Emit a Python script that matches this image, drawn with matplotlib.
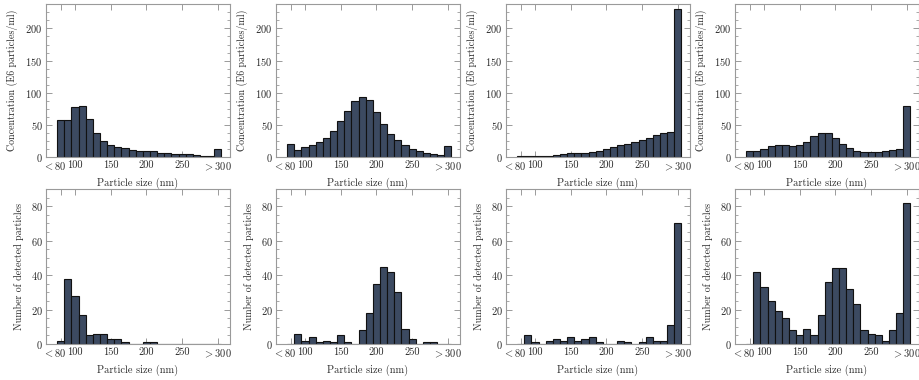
import matplotlib
matplotlib.use("Agg")
import matplotlib.pyplot as plt
from matplotlib.ticker import MultipleLocator, FixedLocator
from matplotlib.transforms import ScaledTranslation

plt.rcParams['font.family'] = ['cmr10', 'DejaVu Serif']
plt.rcParams['mathtext.fontset'] = 'cm'
plt.rcParams['axes.unicode_minus'] = False
plt.rcParams['axes.formatter.use_mathtext'] = True

# bin centres (nm); first = "< 80", last = "> 300"
sizes = [80, 90, 100, 110, 120, 130, 140, 150, 160, 170, 180, 190,
         200, 210, 220, 230, 240, 250, 260, 270, 280, 290, 300]

tick_pos = [80, 100, 150, 200, 250, 300]
tick_labels = ['$<$80', '100', '150', '200', '250', '$>$300']

# top row: concentration (E6 particles/ml)
conc_a = [57, 58, 78, 80, 59, 37, 25, 19, 16, 14, 11, 10, 10, 9, 7, 6, 5, 4, 4, 3, 2, 2, 13]
conc_b = [20, 11, 15, 19, 24, 30, 41, 56, 72, 87, 94, 88, 70, 52, 36, 27, 19, 13, 9, 6, 4, 3, 17]
conc_c = [1, 1, 1, 1, 2, 3, 5, 6, 6, 6, 8, 10, 12, 15, 18, 20, 24, 27, 30, 34, 38, 39, 231]
conc_d = [10, 9, 13, 17, 18, 18, 17, 19, 24, 32, 37, 37, 30, 21, 14, 10, 8, 8, 8, 9, 11, 12, 79]

# bottom row: number of detected particles
num_a = [2, 38, 28, 17, 5, 6, 6, 3, 3, 1, 0, 0, 1, 1, 0, 0, 0, 0, 0, 0, 0, 0, 0]
num_b = [0, 6, 2, 4, 1, 2, 1, 5, 1, 0, 8, 18, 35, 45, 42, 30, 9, 3, 0, 1, 1, 0, 0]
num_c = [0, 5, 1, 0, 2, 3, 2, 4, 2, 3, 4, 1, 0, 0, 2, 1, 0, 1, 4, 2, 2, 11, 70]
num_d = [0, 42, 33, 25, 19, 15, 8, 5, 9, 5, 17, 36, 44, 44, 32, 23, 8, 6, 5, 2, 8, 18, 82]

top_series = [conc_a, conc_b, conc_c, conc_d]
bot_series = [num_a, num_b, num_c, num_d]

bar_color = '#3c4a61'
spine_color = '#9a9a9a'
text_color = '#2a2a2a'

W, H = 919, 380
fig = plt.figure(figsize=(W / 100, H / 100), dpi=100)

lefts = [46, 276, 506, 735]
ax_w = 184
rows = [  # (top px, bottom px)
    (4, 157),
    (189, 344),
]

def style(ax, ymax, major, minor, ylabel):
    ax.set_xlim(59.5, 317)
    ax.set_ylim(0, ymax)
    ax.xaxis.set_major_locator(FixedLocator(tick_pos))
    ax.set_xticklabels(tick_labels)
    ax.yaxis.set_major_locator(MultipleLocator(major))
    ax.yaxis.set_minor_locator(MultipleLocator(minor))
    for s in ax.spines.values():
        s.set_color(spine_color)
        s.set_linewidth(0.8)
    ax.tick_params(which='both', direction='in', top=True, right=True,
                   color=spine_color, labelcolor=text_color, labelsize=7.5, pad=2.5)
    ax.tick_params(which='major', length=4, width=0.7)
    ax.tick_params(which='minor', length=2.5, width=0.6)
    ax.tick_params(axis='x', which='minor', bottom=False, top=False)
    ax.set_xlabel('Particle size (nm)', fontsize=7.5, color=text_color, labelpad=4)
    ax.set_ylabel(ylabel, fontsize=7.2, color=text_color, labelpad=5)
    lbl = ax.get_xticklabels()[0]
    lbl.set_transform(lbl.get_transform() + ScaledTranslation(-6 / 100, 0, fig.dpi_scale_trans))

for r, (series_list, ymax, major, minor, ylabel) in enumerate([
        (top_series, 238, 50, 12.5, 'Concentration (E6 particles/ml)'),
        (bot_series, 90, 20, 5, 'Number of detected particles')]):
    t, b = rows[r]
    for c, vals in enumerate(series_list):
        ax = fig.add_axes([lefts[c] / W, 1 - b / H, ax_w / W, (b - t) / H])
        ax.bar(sizes, vals, width=10, color=bar_color, edgecolor='#111111',
               linewidth=0.8, zorder=2)
        style(ax, ymax, major, minor, ylabel)

fig.savefig('out.png', dpi=100)
